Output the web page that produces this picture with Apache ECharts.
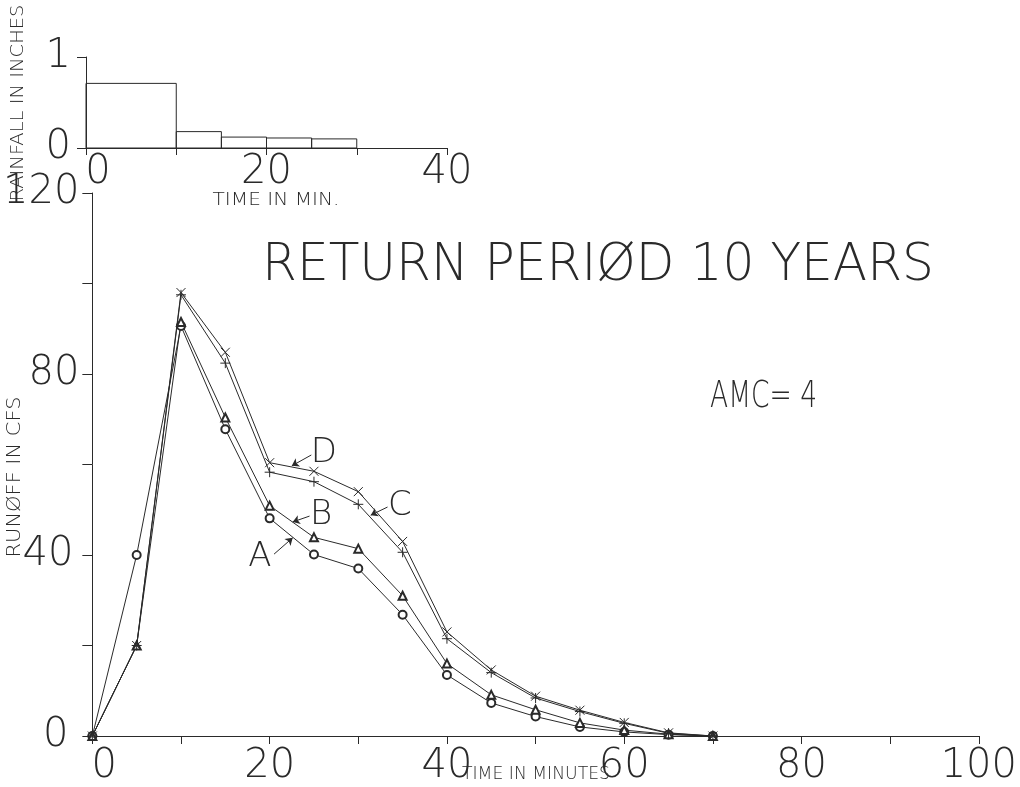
<!DOCTYPE html>
<html>
<head>
<meta charset="utf-8">
<script src="https://cdn.jsdelivr.net/npm/echarts@6/dist/echarts.min.js"></script>
<style>
html,body{margin:0;padding:0;background:#fff;}
#chart{width:1020px;height:787px;}
</style>
</head>
<body>
<div id="chart"></div>
<script>
// ---- data ----
const times   = [0, 5, 10, 15, 20, 25, 30, 35, 40, 45, 50, 55, 60, 65, 70];
const seriesA = [0, 40, 90.6, 67.8, 48.1, 40.1, 37.0, 26.8, 13.5, 7.3, 4.3, 2.0, 0.9, 0.3, 0];
const seriesB = [0, 20, 91.5, 70.4, 50.9, 43.9, 41.4, 31.0, 16.0, 9.1, 5.8, 2.9, 1.3, 0.4, 0];
const seriesC = [0, 20, 97.5, 82.4, 58.3, 56.2, 51.2, 40.6, 21.5, 14.0, 8.4, 5.4, 2.8, 0.6, 0];
const seriesD = [0, 20, 98.0, 84.8, 60.4, 58.5, 54.0, 43.0, 23.0, 14.6, 8.8, 5.7, 3.0, 0.7, 0];

const rainStart = [0, 10, 15, 20, 25];
const rainEnd   = [10, 15, 20, 25, 30];
const rainDepth = [0.71, 0.18, 0.12, 0.11, 0.10];

const curveNames = ['A', 'B', 'C', 'D'];
// annotation: label position and arrow (from -> to), in data units
const labelPos  = [[18.9, 39.6], [25.8, 48.8], [34.7, 50.8], [26.1, 62.5]];
const arrowFrom = [[20.5, 40.2], [24.5, 48.6], [33.3, 50.6], [24.7, 62.1]];
const arrowTo   = [[22.6, 43.8], [22.6, 47.3], [31.4, 48.8], [22.5, 59.7]];

const mainXTicks = {min: 0, max: 100, interval: 10, labelEvery: 20};
const mainYTicks = {min: 0, max: 120, interval: 20, labelEvery: 40};
const rainXTicks = {min: 0, max: 40, interval: 10, labelEvery: 20};
const rainYTicks = {min: 0, max: 1, interval: 1};

const titleText = 'RETURN PERIØD 10 YEARS';
const amcText = 'AMC= 4';

// ---- styles ----
const INK = '#2a2a2a';
const NUMFONT = "'DejaVu Sans'";

const measureCtx = document.createElement('canvas').getContext('2d');
function fitScale(text, font, targetWidth) {
  measureCtx.font = font;
  const w = measureCtx.measureText(text).width;
  return w > 0 ? targetWidth / w : 1;
}
function plotterText(text, size, cx, cy, width, align, rot) {
  const font = '200 ' + size + 'px ' + NUMFONT;
  const el = {
    type: 'text', x: cx, y: cy, scaleX: fitScale(text, font, width),
    style: {text: text, fill: INK, font: font, textAlign: align, textVerticalAlign: 'middle'}
  };
  if (rot) el.rotation = rot;
  return el;
}

const chart = echarts.init(document.getElementById('chart'), null, {renderer: 'canvas'});

function pair(a, b) { return a.map((v, i) => [v, b[i]]); }

const plusPath = 'path://M5,0L5,10M0,5L10,5';
const crossPath = 'path://M0,0L10,10M10,0L0,10';

function lineSeries(name, vals, symbol, size) {
  const isPath = symbol.indexOf('path') === 0;
  return {
    name: name, type: 'line', xAxisIndex: 0, yAxisIndex: 0,
    data: pair(times, vals),
    symbol: symbol, symbolSize: size, showSymbol: true, showAllSymbol: true,
    lineStyle: {color: INK, width: 1},
    itemStyle: {color: isPath ? 'none' : INK, borderColor: INK, borderWidth: 1},
    emphasis: {disabled: true},
    z: 3
  };
}

function labelFmt(every, shiftZero) {
  return function (v) {
    if (Math.round(v) % every !== 0) return '';
    if (v === 0 && shiftZero) return '{z|0}';
    return String(v);
  };
}

const numLabel = {color: INK, fontFamily: NUMFONT, fontWeight: 200, fontSize: 40};
const richNum = function (pad) {
  return {fontFamily: NUMFONT, fontWeight: 200, fontSize: 40, color: INK, padding: pad};
};

const option = {
  animation: false,
  backgroundColor: '#fff',
  grid: [
    {left: 85, top: 193, width: 899, height: 543, containLabel: false},
    {left: 86, top: 57, width: 361, height: 91, containLabel: false}
  ],
  xAxis: [
    {
      type: 'value', gridIndex: 0,
      min: mainXTicks.min, max: mainXTicks.max, interval: mainXTicks.interval,
      axisLine: {show: true, lineStyle: {color: INK, width: 1}},
      axisTick: {show: true, inside: false, length: 8, lineStyle: {color: INK}},
      splitLine: {show: false},
      axisLabel: Object.assign({}, numLabel, {
        margin: 11, showMinLabel: true, showMaxLabel: true,
        formatter: labelFmt(mainXTicks.labelEvery, true),
        rich: {z: richNum([0, 0, 0, 24])}
      })
    },
    {
      type: 'value', gridIndex: 1,
      min: rainXTicks.min, max: rainXTicks.max, interval: rainXTicks.interval,
      axisLine: {show: true, lineStyle: {color: INK, width: 1}},
      axisTick: {show: true, inside: false, length: 7, lineStyle: {color: INK}},
      splitLine: {show: false},
      axisLabel: Object.assign({}, numLabel, {
        margin: 5, showMinLabel: true, showMaxLabel: true,
        formatter: labelFmt(rainXTicks.labelEvery, true),
        rich: {z: richNum([0, 0, 0, 24])}
      })
    }
  ],
  yAxis: [
    {
      type: 'value', gridIndex: 0,
      min: mainYTicks.min, max: mainYTicks.max, interval: mainYTicks.interval,
      axisLine: {show: true, lineStyle: {color: INK, width: 1}},
      axisTick: {show: true, inside: false, length: 10, lineStyle: {color: INK}},
      splitLine: {show: false},
      axisLabel: Object.assign({}, numLabel, {
        margin: 13, showMinLabel: true, showMaxLabel: true,
        formatter: function (v) {
          if (Math.round(v) % mainYTicks.labelEvery !== 0) return '';
          if (v === 0) return '{a|0}';
          if (v === 40) return '{b|40}';
          return String(v);
        },
        rich: {a: richNum([0, 11, 0, 0]), b: richNum([0, 6, 0, 0])}
      })
    },
    {
      type: 'value', gridIndex: 1,
      min: rainYTicks.min, max: rainYTicks.max, interval: rainYTicks.interval,
      axisLine: {show: true, lineStyle: {color: INK, width: 1}},
      axisTick: {show: true, inside: false, length: 9, lineStyle: {color: INK}},
      splitLine: {show: false},
      axisLabel: Object.assign({}, numLabel, {margin: 15, showMinLabel: true, showMaxLabel: true})
    }
  ],
  series: [
    lineSeries('A', seriesA, 'emptyCircle', 8),
    lineSeries('B', seriesB, 'emptyTriangle', 8),
    lineSeries('C', seriesC, plusPath, 10),
    Object.assign(lineSeries('D', seriesD, crossPath, 9), {
      markPoint: {
        symbol: 'circle', symbolSize: 1,
        itemStyle: {color: 'rgba(0,0,0,0)'},
        label: {show: true, position: 'inside', formatter: '{b}', color: INK,
                fontFamily: NUMFONT, fontWeight: 200, fontSize: 34},
        data: curveNames.map((n, i) => ({name: n, coord: labelPos[i]}))
      },
      markLine: {
        silent: true, symbol: ['none', 'arrow'], symbolSize: 7,
        lineStyle: {color: INK, width: 1, type: 'solid'},
        label: {show: false},
        data: curveNames.map((n, i) => [{coord: arrowFrom[i]}, {coord: arrowTo[i]}])
      }
    }),
    {
      type: 'custom', xAxisIndex: 1, yAxisIndex: 1,
      data: rainStart.map((s, i) => [s, rainEnd[i], rainDepth[i]]),
      encode: {x: [0, 1], y: 2},
      renderItem: function (params, api) {
        const p0 = api.coord([api.value(0), api.value(2)]);
        const p1 = api.coord([api.value(1), 0]);
        return {
          type: 'rect',
          shape: {x: p0[0], y: p0[1], width: p1[0] - p0[0], height: p1[1] - p0[1]},
          style: {fill: 'none', stroke: INK, lineWidth: 1}
        };
      },
      silent: true
    }
  ],
  graphic: [
    plotterText(titleText, 51, 262, 267, 672, 'left'),
    plotterText(amcText, 37, 710, 397, 107, 'left'),
    plotterText('TIME IN MIN.', 18, 276, 200, 127, 'center'),
    plotterText('TIME IN MINUTES', 17, 536, 775, 148, 'center'),
    plotterText('RAINFALL IN INCHES', 17, 19, 103, 197, 'center', Math.PI / 2),
    plotterText('RUNØFF IN CFS', 20, 15, 477, 161, 'center', Math.PI / 2)
  ]
};

chart.setOption(option);
</script>
</body>
</html>
